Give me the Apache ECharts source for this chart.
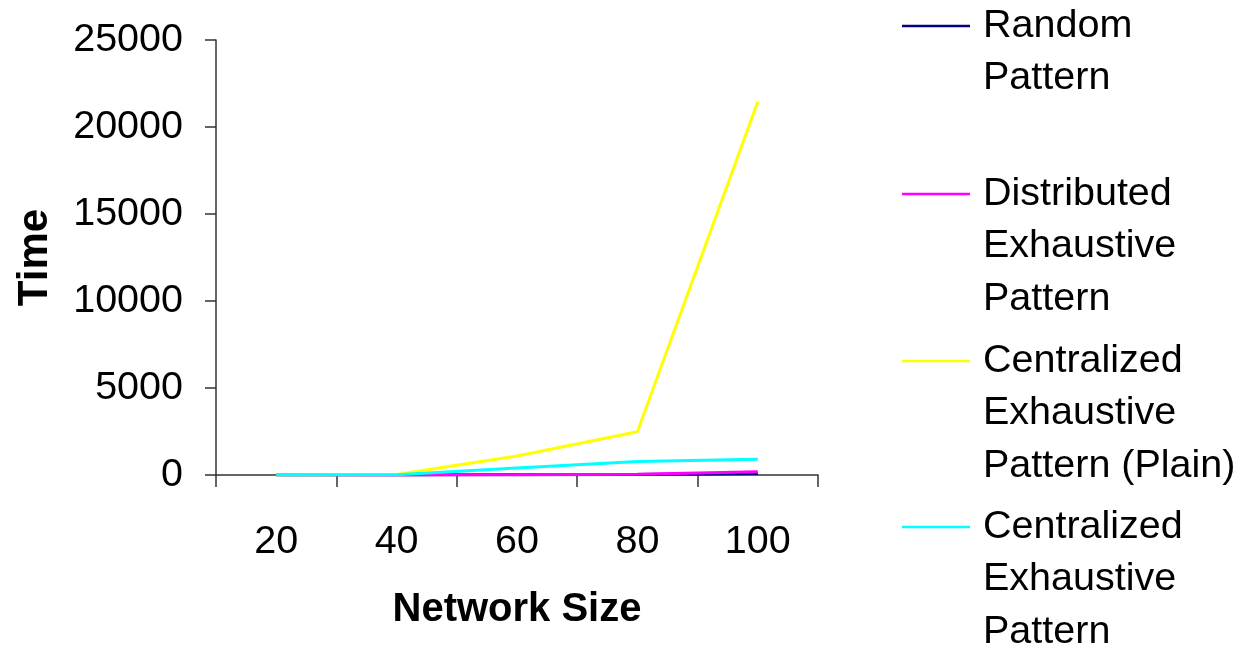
<!DOCTYPE html>
<html>
<head>
<meta charset="utf-8">
<script src="https://cdn.jsdelivr.net/npm/echarts@6/dist/echarts.min.js"></script>
<style>
  html, body { margin: 0; padding: 0; background: #fff; }
  #chart { width: 1242px; height: 649px; }
</style>
</head>
<body>
<div id="chart"></div>
<script>
// Network size categories on the x axis
const networkSizes = ['20', '40', '60', '80', '100'];

// Completion time for each pattern
const randomPattern = [0, 2, 8, 25, 90];
const distributedExhaustive = [0, 5, 20, 50, 180];
const centralizedPlain = [0, 30, 1090, 2490, 21450];
const centralizedExhaustive = [0, 20, 400, 770, 900];

// Legend entries (line-broken labels)
const seriesNames = [
  'Random Pattern',
  'Distributed Exhaustive Pattern',
  'Centralized Exhaustive Pattern (Plain)',
  'Centralized Exhaustive Pattern'
];
const legendLabels = [
  'Random\nPattern',
  'Distributed\nExhaustive\nPattern',
  'Centralized\nExhaustive\nPattern (Plain)',
  'Centralized\nExhaustive\nPattern'
];
const seriesColors = ['#000080', '#FF00FF', '#FFFF00', '#00FFFF'];
const seriesValues = [randomPattern, distributedExhaustive, centralizedPlain, centralizedExhaustive];

const FONT = '"Liberation Sans", Arial, sans-serif';
const FONT_SIZE = 39.5;
const LINE_H = 52.5;
// vertical centre of each legend entry's first text line
const legendFirstLineY = [26, 194, 361, 527];

const chart = echarts.init(document.getElementById('chart'));

// One legend per entry so every entry keeps its own slot. The symbol is
// centred on the label block, so blank lines are put above the label to keep
// the first line level with the symbol.
const legends = seriesNames.map((name, i) => {
  const nLines = legendLabels[i].split('\n').length;
  const blank = '\n'.repeat(nLines - 1);
  const boxH = (nLines * 2 - 1) * LINE_H;
  return {
    data: [name],
    orient: 'vertical',
    left: 902,
    top: legendFirstLineY[i] - boxH / 2,
    padding: 0,
    itemWidth: 76,
    itemHeight: 10,
    itemGap: 0,
    selectedMode: false,
    // 68px line plus an empty stretch that spaces the label off the line
    icon: 'path://M0,4.5L68,4.5L68,7L0,7Z M76,5.7L76,5.8Z',
    formatter: () => blank + legendLabels[i],
    textStyle: {
      fontFamily: FONT,
      fontSize: FONT_SIZE,
      color: '#000',
      lineHeight: LINE_H
    }
  };
});

chart.setOption({
  backgroundColor: '#fff',
  animation: false,
  legend: legends,
  grid: { left: 216, right: 424, top: 40, bottom: 174, containLabel: false },
  xAxis: {
    type: 'category',
    data: networkSizes,
    boundaryGap: true,
    name: 'Network Size',
    nameLocation: 'middle',
    nameGap: 115,
    nameTextStyle: { fontFamily: FONT, fontSize: 40, fontWeight: 'bold', color: '#000' },
    axisLine: { lineStyle: { color: '#333', width: 1.5 } },
    axisTick: { show: true, length: 12, lineStyle: { color: '#333', width: 1.5 } },
    axisLabel: { fontFamily: FONT, fontSize: FONT_SIZE, color: '#000', margin: 47 },
    splitLine: { show: false }
  },
  yAxis: {
    type: 'value',
    min: 0,
    max: 25000,
    interval: 5000,
    name: 'Time',
    nameLocation: 'middle',
    nameGap: 160,
    nameTextStyle: { fontFamily: FONT, fontSize: 42, fontWeight: 'bold', color: '#000' },
    axisLine: { show: true, lineStyle: { color: '#333', width: 1.5 } },
    axisTick: { show: true, length: 11, lineStyle: { color: '#333', width: 1.5 } },
    axisLabel: {
      fontFamily: FONT, fontSize: FONT_SIZE, color: '#000', margin: 33,
      formatter: (v) => String(v)
    },
    splitLine: { show: false }
  },
  series: seriesNames.map((name, i) => ({
    name: name,
    type: 'line',
    data: seriesValues[i],
    symbol: 'none',
    smooth: false,
    lineStyle: { color: seriesColors[i], width: 3 },
    itemStyle: { color: seriesColors[i] },
    z: 2 + i
  }))
});
</script>
</body>
</html>
